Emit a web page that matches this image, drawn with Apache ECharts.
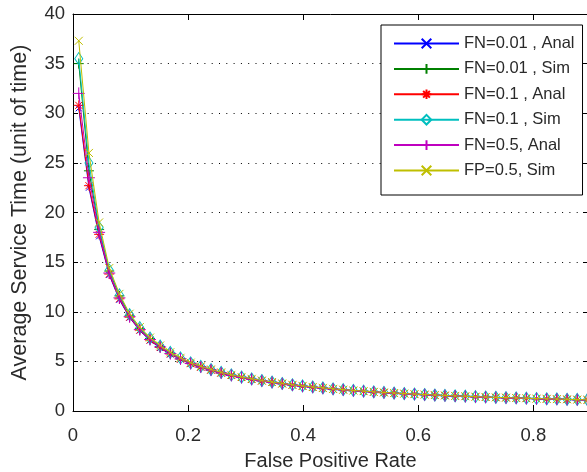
<!DOCTYPE html>
<html>
<head>
<meta charset="utf-8">
<script src="https://cdn.jsdelivr.net/npm/echarts@6/dist/echarts.min.js"></script>
<style>html,body{margin:0;padding:0;background:#fff;}#c{width:587px;height:472px;}</style>
</head>
<body>
<div id="c"></div>
<script>
const xValues = [0.01,0.0277,0.0454,0.0630,0.0807,0.0984,0.1161,0.1338,0.1514,0.1691,0.1868,0.2045,0.2221,0.2398,0.2575,0.2752,0.2929,0.3105,0.3282,0.3459,0.3636,0.3813,0.3989,0.4166,0.4343,0.4520,0.4696,0.4873,0.5050,0.5227,0.5404,0.5580,0.5757,0.5934,0.6111,0.6288,0.6464,0.6641,0.6818,0.6995,0.7171,0.7348,0.7525,0.7702,0.7879,0.8055,0.8232,0.8409,0.8586,0.8763,0.8939];
const fn001Anal = [30.5,22.5,17.6,13.7,11.2,9.4,8.1,7.1,6.35,5.7,5.2,4.75,4.4,4.1,3.8,3.57,3.37,3.18,3.02,2.87,2.73,2.6,2.49,2.38,2.29,2.2,2.12,2.04,1.97,1.9,1.84,1.78,1.73,1.68,1.63,1.58,1.54,1.5,1.46,1.42,1.38,1.35,1.32,1.29,1.26,1.23,1.2,1.18,1.15,1.13,1.11];
const fn001Sim = [35.0,24.2,18.3,14.1,11.6,9.6,8.3,7.3,6.5,5.85,5.3,4.82,4.46,4.14,3.86,3.62,3.4,3.21,3.05,2.9,2.76,2.62,2.51,2.4,2.31,2.21,2.14,2.05,1.99,1.91,1.86,1.79,1.75,1.69,1.65,1.59,1.56,1.51,1.48,1.43,1.4,1.36,1.34,1.3,1.28,1.24,1.22,1.19,1.17,1.14,1.13];
const fn01Anal = [30.8,22.7,17.8,13.8,11.3,9.45,8.15,7.15,6.4,5.75,5.22,4.77,4.42,4.12,3.82,3.58,3.38,3.19,3.03,2.88,2.74,2.61,2.5,2.39,2.3,2.21,2.13,2.05,1.98,1.91,1.85,1.79,1.74,1.69,1.64,1.59,1.55,1.51,1.47,1.43,1.39,1.36,1.33,1.3,1.27,1.24,1.21,1.19,1.16,1.14,1.12];
const fn01Sim = [35.5,25.0,18.5,14.2,11.7,9.7,8.4,7.35,6.55,5.9,5.35,4.85,4.5,4.18,3.88,3.64,3.42,3.23,3.07,2.92,2.77,2.64,2.52,2.42,2.32,2.23,2.15,2.07,2.0,1.93,1.87,1.81,1.76,1.71,1.66,1.61,1.57,1.53,1.49,1.45,1.41,1.38,1.35,1.32,1.29,1.26,1.23,1.21,1.18,1.16,1.14];
const fn05Anal = [32.0,23.5,18.0,13.9,11.4,9.5,8.2,7.2,6.45,5.78,5.25,4.79,4.43,4.13,3.84,3.59,3.39,3.2,3.04,2.89,2.75,2.62,2.5,2.4,2.3,2.21,2.13,2.05,1.98,1.91,1.85,1.79,1.74,1.69,1.64,1.59,1.55,1.51,1.47,1.43,1.39,1.36,1.33,1.3,1.27,1.24,1.21,1.19,1.16,1.14,1.12];
const fp05Sim = [37.3,26.0,19.0,14.4,11.8,9.8,8.45,7.4,6.6,5.92,5.36,4.87,4.5,4.19,3.89,3.64,3.43,3.24,3.07,2.92,2.78,2.64,2.53,2.42,2.33,2.23,2.15,2.07,2.0,1.93,1.87,1.81,1.76,1.7,1.66,1.61,1.57,1.52,1.49,1.44,1.41,1.37,1.35,1.31,1.29,1.25,1.23,1.2,1.18,1.15,1.13];
const seriesNames = ['FN=0.01 , Anal','FN=0.01 , Sim','FN=0.1 , Anal','FN=0.1 , Sim','FN=0.5, Anal','FP=0.5, Sim'];
const xTicks = [0, 0.2, 0.4, 0.6, 0.8];
const yTicks = [0, 5, 10, 15, 20, 25, 30, 35, 40];

const X_PATH = 'path://M0,0L10,10M10,0L0,10';
const PLUS_PATH = 'path://M5,0L5,10M0,5L10,5';
const STAR_PATH = 'path://M5,0L5,10M0,5L10,5M1.5,1.5L8.5,8.5M8.5,1.5L1.5,8.5';

const styles = [
  {data: fn001Anal, color: '#0000ff', symbol: X_PATH, size: 6, fill: '#0000ff'},
  {data: fn001Sim, color: '#008000', symbol: PLUS_PATH, size: 10, fill: '#008000'},
  {data: fn01Anal, color: '#ff0000', symbol: STAR_PATH, size: 10, fill: '#ff0000'},
  {data: fn01Sim, color: '#00bfbf', symbol: 'diamond', size: [8, 12], fill: 'rgba(0,0,0,0)'},
  {data: fn05Anal, color: '#bf00bf', symbol: PLUS_PATH, size: 12, fill: '#bf00bf'},
  {data: fp05Sim, color: '#bfbf00', symbol: X_PATH, size: 8, fill: '#bfbf00'}
];

const chart = echarts.init(document.getElementById('c'), null, {renderer: 'canvas'});
const font = 'Liberation Sans, Arial, sans-serif';
const txt = '#2a2a2a';
chart.setOption({
  animation: false,
  backgroundColor: '#fff',
  grid: {left: 73, top: 14, right: -1, bottom: 61, containLabel: false, outerBoundsMode: 'none'},
  legend: {
    orient: 'vertical', left: 381, top: 25,
    padding: [10, 8, 16, 12],
    itemWidth: 65, itemHeight: 12, itemGap: 8.4,
    backgroundColor: '#fff', borderColor: '#000', borderWidth: 1,
    textStyle: {fontFamily: font, fontSize: 16.5, lineHeight: 16.6, color: txt},
    data: seriesNames
  },
  xAxis: [{
    type: 'value', min: 0, max: 0.895, interval: 0.2,
    name: 'False Positive Rate', nameLocation: 'middle', nameGap: 40,
    nameTextStyle: {fontFamily: font, fontSize: 20, color: txt},
    axisLine: {onZero: false, lineStyle: {color: '#000', width: 1}},
    axisTick: {inside: true, length: 6, lineStyle: {color: '#000'}},
    axisLabel: {fontFamily: font, fontSize: 18.5, color: txt, margin: 15, showMaxLabel: false,
      formatter: v => (v === 0 ? '0' : v.toFixed(1))},
    splitLine: {show: false}
  }, {
    type: 'value', min: 0, max: 0.895, interval: 0.2, position: 'top',
    axisLine: {onZero: false, lineStyle: {color: '#000', width: 1}},
    axisTick: {inside: true, length: 6, lineStyle: {color: '#000'}},
    axisLabel: {show: false}, splitLine: {show: false}
  }],
  yAxis: [{
    type: 'value', min: 0, max: 40, interval: 5,
    name: 'Average Service Time (unit of time)', nameLocation: 'middle', nameGap: 42,
    nameTextStyle: {fontFamily: font, fontSize: 21.5, color: txt},
    axisLine: {show: true, onZero: false, lineStyle: {color: '#000', width: 1}},
    axisTick: {show: true, inside: true, length: 5, lineStyle: {color: '#000'}},
    axisLabel: {fontFamily: font, fontSize: 18.5, color: txt, margin: 8},
    splitLine: {show: true, lineStyle: {color: '#000', width: 1, type: [1, 6.3]}}
  }, {
    type: 'value', min: 0, max: 40, interval: 5, position: 'right',
    axisLine: {show: true, onZero: false, lineStyle: {color: '#000', width: 1}},
    axisTick: {show: true, inside: true, length: 5, lineStyle: {color: '#000'}},
    axisLabel: {show: false}, splitLine: {show: false}
  }],
  series: styles.map((s, i) => ({
    name: seriesNames[i],
    type: 'line',
    data: xValues.map((x, k) => [x, s.data[k]]),
    symbol: s.symbol,
    symbolSize: s.size,
    showAllSymbol: true,
    lineStyle: {color: s.color, width: 1},
    itemStyle: {color: s.fill, borderColor: s.color, borderWidth: 1},
    emphasis: {disabled: true},
    z: 2 + i
  }))
});
</script>
</body>
</html>
